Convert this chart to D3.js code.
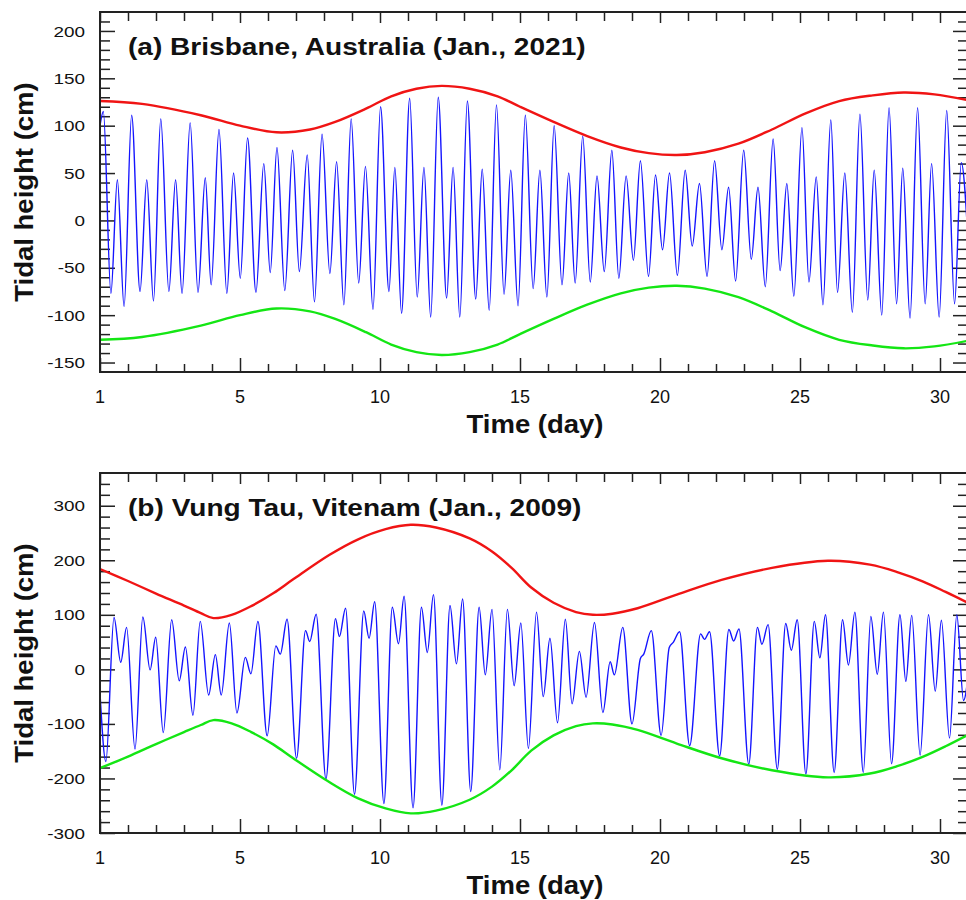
<!DOCTYPE html>
<html>
<head>
<meta charset="utf-8">
<title>Tidal height</title>
<script src="https://cdn.jsdelivr.net/npm/d3@7"></script>
<style>
  body { margin: 0; background: #fff; }
  text { font-family: Arial, "Liberation Sans", sans-serif; fill: #111; }
</style>
</head>
<body>
<script>
// ---- data ----
// x ticks: the axis starts at 0 but the first label says "1"
var xTickDays = [0, 5, 10, 15, 20, 25, 30];
var xTickLabels = ["1", "5", "10", "15", "20", "25", "30"];
var aYTicks = [-150, -100, -50, 0, 50, 100, 150, 200];
var bYTicks = [-300, -200, -100, 0, 100, 200, 300];

// (a) Brisbane: high / low waters (day, cm)
var brisDay = [0, 0.12, 0.39, 0.62, 0.86, 1.13, 1.43, 1.67, 1.91, 2.17, 2.46, 2.70,
  2.93, 3.22, 3.50, 3.76, 3.97, 4.25, 4.53, 4.77, 5.01, 5.27, 5.57, 5.85,
  6.08, 6.32, 6.60, 6.88, 7.12, 7.40, 7.66, 7.93, 8.21, 8.45, 8.71, 8.97,
  9.24, 9.48, 9.75, 10.02, 10.32, 10.53, 10.77, 11.06, 11.33, 11.57, 11.81, 12.08,
  12.38, 12.61, 12.85, 13.12, 13.42, 13.65, 13.90, 14.16, 14.43, 14.67, 14.93, 15.19,
  15.47, 15.71, 15.96, 16.22, 16.50, 16.74, 16.97, 17.24, 17.51, 17.75, 18.01, 18.28,
  18.53, 18.79, 19.05, 19.30, 19.59, 19.84, 20.09, 20.34, 20.62, 20.90, 21.15, 21.41,
  21.68, 21.95, 22.21, 22.45, 22.70, 22.99, 23.26, 23.50, 23.76, 24.04, 24.29, 24.53,
  24.78, 25.07, 25.32, 25.58, 25.82, 26.10, 26.34, 26.60, 26.87, 27.14, 27.42, 27.65,
  27.92, 28.18, 28.45, 28.67, 28.93, 29.20, 29.47, 29.70, 29.97, 30.24, 30.52, 30.76, 31.00];
var brisCm = [100, 115, -77, 43, -91, 111, -75, 43, -85, 107, -75, 43,
  -77, 103, -76, 45, -68, 96, -77, 50, -61, 87, -76, 60,
  -55, 77, -74, 74, -54, 69, -86, 91, -56, 62, -89, 107,
  -66, 57, -94, 120, -75, 56, -98, 129, -81, 56, -102, 130,
  -82, 56, -102, 126, -83, 54, -95, 122, -78, 53, -90, 111,
  -72, 53, -81, 100, -68, 50, -66, 89, -65, 47, -54, 74,
  -61, 47, -42, 63, -59, 48, -31, 50, -58, 53, -27, 39,
  -59, 63, -31, 35, -64, 74, -41, 35, -70, 86, -53, 39,
  -80, 98, -65, 46, -89, 106, -76, 50, -97, 112, -84, 53,
  -100, 119, -88, 55, -103, 119, -88, 60, -102, 116, -88, 61, -20];
var brisEnvDay = [0, 1.5, 3.6, 5, 6.3, 7.5, 8.4, 9.5, 10.4, 11.3, 12.2, 13.2, 14.2, 15,
  16.2, 17.4, 18.6, 19.6, 20.6, 21.6, 22.8, 24, 25.2, 26.4, 27.6, 28.7, 29.8, 31];
var brisHigh = [126, 123, 111, 100, 93, 96, 104, 118, 131, 139, 142, 139, 131, 120,
  104, 89, 77, 71, 69, 72, 81, 96, 113, 126, 132, 135, 133, 127];
var brisLow = [-126, -123, -111, -100, -93, -96, -104, -118, -131, -139, -142, -139, -131, -120,
  -104, -89, -77, -71, -69, -72, -81, -96, -113, -126, -132, -135, -133, -127];

// (b) Vung Tau
var vungDay = [0, 0.21, 0.50, 0.74, 0.95, 1.25, 1.53, 1.79, 1.99, 2.26, 2.56, 2.83,
  3.05, 3.32, 3.58, 3.88, 4.12, 4.33, 4.62, 4.89, 5.19, 5.39, 5.64, 5.97,
  6.28, 6.44, 6.68, 7.02, 7.34, 7.49, 7.72, 8.07, 8.41, 8.55, 8.77, 9.09,
  9.42, 9.61, 9.81, 10.14, 10.44, 10.66, 10.86, 11.18, 11.48, 11.69, 11.91, 12.21,
  12.50, 12.73, 12.95, 13.24, 13.54, 13.76, 14.00, 14.28, 14.55, 14.79, 15.03, 15.30,
  15.59, 15.83, 16.07, 16.34, 16.62, 16.86, 17.12, 17.36, 17.66, 17.96, 18.22, 18.37,
  18.67, 19.00, 19.30, 19.42, 19.69, 20.04, 20.33, 20.48, 20.70, 21.06, 21.45, 21.59,
  21.77, 22.13, 22.46, 22.63, 22.82, 23.17, 23.48, 23.64, 23.86, 24.19, 24.49, 24.69,
  24.90, 25.21, 25.51, 25.71, 25.91, 26.22, 26.52, 26.73, 26.96, 27.26, 27.53, 27.76,
  27.98, 28.27, 28.57, 28.78, 28.99, 29.29, 29.59, 29.83, 30.05, 30.34, 30.60, 30.84, 31.05];
var vungCm = [-43, -169, 95, 13, 77, -146, 96, -1, 59, -116, 91, -21,
  41, -84, 88, -47, 27, -47, 85, -80, 22, -8, 88, -122,
  43, 28, 92, -163, 71, 51, 101, -201, 93, 60, 112, -229,
  107, 57, 124, -246, 114, 47, 134, -254, 114, 31, 137, -249,
  117, 10, 129, -224, 114, -10, 110, -184, 110, -30, 85, -145,
  105, -50, 57, -98, 92, -63, 33, -51, 86, -79, 14, -10,
  77, -100, 20, 28, 71, -121, 40, 50, 69, -140, 65, 55,
  69, -159, 73, 52, 74, -174, 77, 46, 82, -183, 84, 35,
  91, -192, 88, 21, 100, -189, 91, 8, 105, -189, 97, -9,
  105, -173, 100, -22, 99, -157, 100, -40, 90, -126, 100, -57, 10];
var vungEnvDay = [0, 1, 2, 3, 3.6, 4.05, 4.7, 5.4, 6.2, 6.9, 8.2, 9.2, 10.2, 11.1, 12, 13.2,
  14, 14.7, 15.4, 16.2, 17, 17.6, 18.3, 19.2, 20.6, 22.2, 24, 26, 27.5, 28.5, 29.4, 30.2, 31];
var vungHigh = [184, 162, 139, 117, 103, 94, 100, 116, 140, 165, 210, 238, 257, 265, 260, 240,
  216, 186, 150, 122, 105, 100, 102, 112, 137, 164, 186, 199, 192, 178, 161, 142, 122];
var vungLow = [-181, -160, -137, -115, -102, -93, -99, -115, -138, -163, -207, -236, -255, -264, -259, -239,
  -215, -185, -149, -121, -104, -99, -101, -111, -136, -163, -185, -198, -191, -177, -160, -141, -120];

// ---- layout ----
var W = 966, H = 900;
var left = 100, right = 968;

var svg = d3.select("body").append("svg")
  .attr("width", W).attr("height", H);

var x = d3.scaleLinear().domain([0, 31]).range([left, right]);

function drawPanel(p) {
  var y = d3.scaleLinear().domain(p.yDomain).range([p.bottom, p.top]);
  var g = svg.append("g");

  // clip for the curves
  g.append("clipPath").attr("id", p.id + "clip")
    .append("rect")
    .attr("x", left).attr("y", p.top)
    .attr("width", right - left).attr("height", p.bottom - p.top);

  var xMinor = d3.range(1, 31).filter(function(d) { return d % 5 != 0; });
  var yMinor = d3.range(p.yDomain[0] + p.minorStep, p.yDomain[1], p.minorStep)
    .filter(function(d) { return p.yTicks.indexOf(d) < 0; });

  // inward ticks on all four sides
  function ticks(axis, tr, vals, size) {
    var a = g.append("g").attr("transform", tr)
      .call(axis.tickValues(vals).tickSize(-size).tickSizeOuter(0).tickFormat(""));
    a.select(".domain").remove();
    a.selectAll("line").attr("stroke", "#222").attr("stroke-width", 1.5);
  }
  ticks(d3.axisBottom(x), "translate(0," + p.bottom + ")", xMinor, 8);
  ticks(d3.axisBottom(x), "translate(0," + p.bottom + ")", xTickDays, 14);
  ticks(d3.axisTop(x), "translate(0," + p.top + ")", xMinor, 9);
  ticks(d3.axisTop(x), "translate(0," + p.top + ")", xTickDays, 11);
  ticks(d3.axisLeft(y), "translate(" + left + ",0)", yMinor, 10);
  ticks(d3.axisLeft(y), "translate(" + left + ",0)", p.yTicks, 15);
  ticks(d3.axisRight(y), "translate(" + right + ",0)", yMinor, 10);
  ticks(d3.axisRight(y), "translate(" + right + ",0)", p.yTicks, 15);

  // curves
  var tideLine = d3.line()
    .x(function(d) { return x(d[0]); })
    .y(function(d) { return y(d[1]); })
    .curve(d3.curveMonotoneX);
  var envLine = d3.line()
    .x(function(d) { return x(d[0]); })
    .y(function(d) { return y(d[1]); })
    .curve(d3.curveCatmullRom.alpha(0.5));
  var plot = g.append("g").attr("clip-path", "url(#" + p.id + "clip)");
  plot.append("path").datum(d3.zip(p.tideDay, p.tideCm))
    .attr("d", tideLine).attr("fill", "none")
    .attr("stroke", "#1414ff").attr("stroke-width", 1.4);
  plot.append("path").datum(d3.zip(p.envDay, p.high))
    .attr("d", envLine).attr("fill", "none")
    .attr("stroke", "#f01414").attr("stroke-width", 2.4);
  plot.append("path").datum(d3.zip(p.envDay, p.low))
    .attr("d", envLine).attr("fill", "none")
    .attr("stroke", "#14e614").attr("stroke-width", 2.4);

  // frame
  g.append("rect")
    .attr("x", left).attr("y", p.top)
    .attr("width", right - left).attr("height", p.bottom - p.top)
    .attr("fill", "none").attr("stroke", "#222").attr("stroke-width", 2);

  // tick labels
  g.selectAll(".ylab").data(p.yTicks).enter().append("text")
    .attr("transform", function(d) { return "translate(85," + y(d) + ") scale(1.22,1)"; })
    .attr("dy", "0.36em")
    .attr("text-anchor", "end")
    .style("font-size", "15.5px")
    .text(function(d) { return d; });

  g.selectAll(".xlab").data(xTickDays).enter().append("text")
    .attr("x", function(d) { return x(d); })
    .attr("y", p.bottom + 31)
    .attr("text-anchor", "middle")
    .style("font-size", "18px")
    .text(function(d, i) { return xTickLabels[i]; });

  // axis titles
  g.append("text")
    .attr("transform", "translate(535," + (p.bottom + 61) + ") scale(1.1,1)")
    .attr("text-anchor", "middle")
    .style("font-size", "25px").style("font-weight", "bold")
    .text("Time (day)");

  g.append("text")
    .attr("transform", "translate(33," + ((p.top + p.bottom) / 2) + ") rotate(-90) scale(1.1,1)")
    .attr("text-anchor", "middle")
    .style("font-size", "25px").style("font-weight", "bold")
    .text("Tidal height (cm)");

  // panel title
  g.append("text")
    .attr("transform", "translate(128," + (p.top + 43) + ") scale(1.17,1)")
    .style("font-size", "24px").style("font-weight", "bold")
    .text(p.title);
}

drawPanel({
  id: "a", top: 12, bottom: 372, yDomain: [-160, 220], minorStep: 10, yTicks: aYTicks,
  tideDay: brisDay, tideCm: brisCm, envDay: brisEnvDay, high: brisHigh, low: brisLow,
  title: "(a) Brisbane, Australia (Jan., 2021)"
});
drawPanel({
  id: "b", top: 473, bottom: 833, yDomain: [-300, 360], minorStep: 20, yTicks: bYTicks,
  tideDay: vungDay, tideCm: vungCm, envDay: vungEnvDay, high: vungHigh, low: vungLow,
  title: "(b) Vung Tau, Vitenam (Jan., 2009)"
});
</script>
</body>
</html>
